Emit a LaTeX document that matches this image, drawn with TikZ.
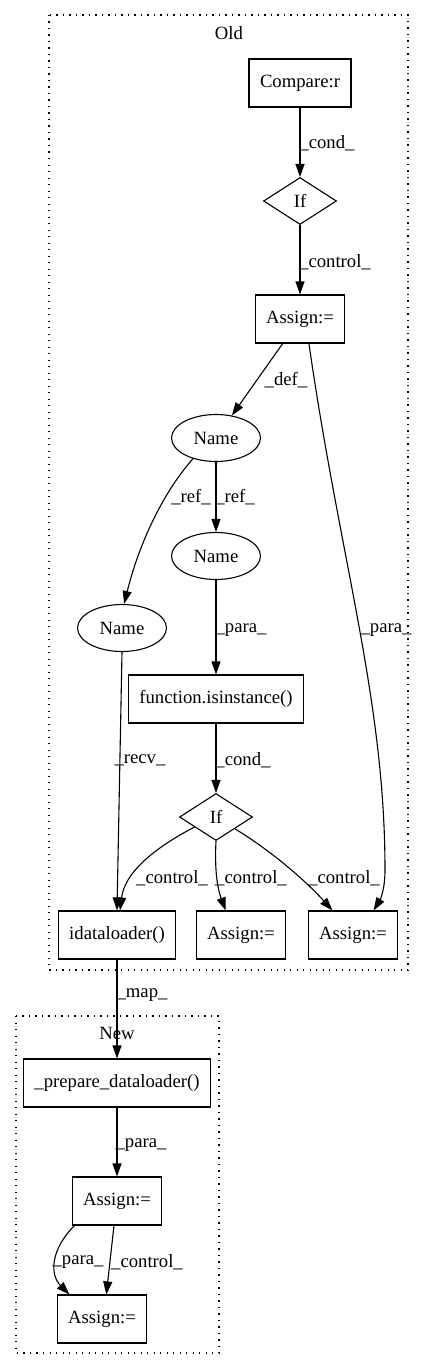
\documentclass[tikz,border=0pt]{standalone}
\usepackage{fontspec}
\setmainfont{Liberation Serif}
\usetikzlibrary{shapes.geometric,arrows.meta}
\newcommand{\gvfont}{\fontsize{18.7}{22}\selectfont}

\begin{document}
\begin{tikzpicture}[x=1pt,y=1pt,
              every node/.style={font=\gvfont},
              box/.style={draw,line width=1.1pt,minimum height=48pt,inner xsep=11pt},
              oval/.style={draw,ellipse,line width=1.1pt,minimum width=89pt,minimum height=47pt,inner sep=0pt},
              decision/.style={draw,diamond,line width=1.1pt,minimum width=73pt,minimum height=47pt,inner sep=0pt},
              flow/.style={-{Triangle[length=13pt,width=9pt]},line width=1.1pt},
              lbl/.style={inner sep=0pt},
              cluster/.style={line width=1.1pt,dash pattern=on 1.2pt off 5.3pt}
            ]
            \useasboundingbox (0,0) rectangle (424,-1370);
            % clusters
            \draw[cluster] (49,-15) rectangle (408,-970);
            \node[lbl] (oldlbl) at (229,-33) {Old};
            \draw[cluster] (16,-1016) rectangle (219,-1353);
            % old
            \node[box] (cmp) at (300,-83) {Compare:r};
            \node[decision] (iftop) at (300,-201) {If};
            \node[box] (asgtop) at (300,-319) {Assign:=};
            \node[oval] (namea) at (216,-438) {Name};
            \node[oval] (nameb) at (216,-556) {Name};
            \node[oval] (namec) at (122,-628) {Name};
            \node[box] (isinst) at (216,-699) {function.isinstance()};
            \node[decision] (ifmid) at (216,-817) {If};
            \node[box] (idl) at (117,-935) {idataloader()};
            \node[box] (asgmid) at (241,-935) {Assign:=};
            \node[box] (asgright) at (353,-935) {Assign:=};
            % new
            \node[box] (prep) at (117,-1083) {\_prepare\_dataloader()};
            \node[lbl] (newlbl) at (117,-1033) {New};
            \node[box] (asgnew) at (117,-1201) {Assign:=};
            \node[box] (asglast) at (102,-1319) {Assign:=};

            \draw[flow] (cmp.south) -- (iftop.north);
            \node[lbl] (l1) at (327,-143) {\_cond\_};
            \draw[flow] (iftop.south) -- (asgtop.north);
            \node[lbl] (l2) at (335,-262) {\_control\_};
            \draw[flow] (asgtop) -- (namea);
            \node[lbl] (l3) at (286,-380) {\_def\_};
            \draw[flow] (asgtop.-70) .. controls (340,-560) and (385,-700) .. (385,-870)
                        .. controls (385,-890) and (380,-900) .. (asgright.50);
            \node[lbl] (l4) at (386,-630) {\_para\_};
            \draw[flow] (namea.222) .. controls (165,-490) and (140,-540) .. (namec.85);
            \node[lbl] (l5) at (191,-497) {\_ref\_};
            \draw[flow] (namea.south) -- (nameb.north);
            \node[lbl] (l6) at (235,-497) {\_ref\_};
            \draw[flow] (nameb.south) -- (isinst.north);
            \node[lbl] (l7) at (241,-630) {\_para\_};
            \draw[flow] (namec.south) -- (idl.north);
            \node[lbl] (l8) at (140,-760) {\_recv\_};
            \draw[flow] (isinst.south) -- (ifmid.north);
            \node[lbl] (l9) at (243,-760) {\_cond\_};
            \draw[flow] (ifmid.205) .. controls (160,-845) and (125,-870) .. (idl.83);
            \node[lbl] (l10) at (172,-878) {\_control\_};
            \draw[flow] (ifmid.south) .. controls (214,-880) and (220,-895) .. (asgmid.122);
            \node[lbl] (l11) at (251,-878) {\_control\_};
            \draw[flow] (ifmid.-32) .. controls (270,-850) and (305,-880) .. (asgright.130);
            \node[lbl] (l12) at (344,-878) {\_control\_};
            \draw[flow] (idl.south) -- (prep.north);
            \node[lbl] (l13) at (142,-995) {\_map\_};
            \draw[flow] (prep.south) -- (asgnew.north);
            \node[lbl] (l14) at (141,-1145) {\_para\_};
            \draw[flow] (asgnew.210) .. controls (50,-1250) and (50,-1275) .. (asglast.143);
            \node[lbl] (l15) at (78,-1262) {\_para\_};
            \draw[flow] (asgnew.263) -- (asglast.80);
            \node[lbl] (l16) at (147,-1262) {\_control\_};
          \end{tikzpicture}
\end{document}
